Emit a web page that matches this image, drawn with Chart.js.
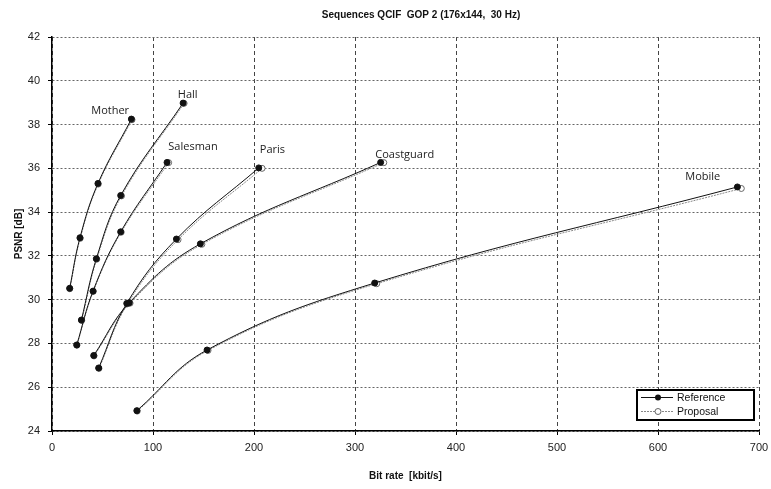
<!DOCTYPE html>
<html>
<head>
<meta charset="utf-8">
<script src="https://cdn.jsdelivr.net/npm/chart.js@4.4.1/dist/chart.umd.min.js"></script>
<style>
    html, body { margin: 0; padding: 0; background: #fff; }
    #wrap { width: 771px; height: 489px; }
</style>
</head>
<body>
<div id="wrap"><canvas id="chart-rd"></canvas></div>
<script>
const chartTitle = 'Sequences QCIF  GOP 2 (176x144,  30 Hz)';
const xTitle = 'Bit rate  [kbit/s]';
const yTitle = 'PSNR [dB]';

const sequences = ['Mother', 'Hall', 'Salesman', 'Paris', 'Coastguard', 'Mobile'];

// Reference codec: bit rate (kbit/s) and PSNR (dB) per sequence
const refRate = [
    [17.5, 27.7, 45.5, 78.6],
    [29.1, 43.9, 68.0, 129.8],
    [24.5, 40.6, 68.0, 113.9],
    [46.2, 74.0, 123.2, 204.7],
    [41.3, 76.5, 146.9, 325.4],
    [84.0, 153.5, 319.5, 678.6]
];
const refPsnr = [
    [30.52, 32.83, 35.31, 38.25],
    [29.07, 31.87, 34.76, 38.98],
    [27.93, 30.39, 33.10, 36.27],
    [26.88, 29.83, 32.77, 36.02],
    [27.45, 29.86, 32.55, 36.27],
    [24.93, 27.70, 30.76, 35.15]
];

// Proposal codec
const propRate = [
    [17.6, 27.9, 45.8, 79.2],
    [29.4, 44.3, 68.8, 130.8],
    [24.7, 40.9, 68.5, 115.5],
    [46.5, 74.8, 124.8, 208.0],
    [41.6, 77.3, 148.4, 328.5],
    [84.4, 154.5, 321.5, 682.5]
];
const propPsnr = [
    [30.50, 32.80, 35.28, 38.22],
    [29.05, 31.85, 34.74, 38.97],
    [27.92, 30.38, 33.08, 36.26],
    [26.86, 29.81, 32.74, 36.00],
    [27.43, 29.84, 32.53, 36.26],
    [24.91, 27.68, 30.73, 35.08]
];

// where each sequence name sits, in data units
const labelRate = [57.6, 134.4, 139.6, 218.2, 349.2, 644.3];
const labelPsnr = [38.61, 39.34, 37.00, 36.85, 36.60, 35.60];

const legendNames = ['Reference', 'Proposal'];

const toPoints = (xs, ys) => xs.map((x, i) => ({ x: x, y: ys[i] }));

const datasets = [];
sequences.forEach((name, s) => {
    datasets.push({
        label: name + ' Reference',
        data: toPoints(refRate[s], refPsnr[s]),
        showLine: true,
        borderColor: '#111',
        borderWidth: 1,
        tension: 0.4,
        pointRadius: 3,
        pointBackgroundColor: '#111',
        pointBorderColor: '#111',
        order: 1
    });
    datasets.push({
        label: name + ' Proposal',
        data: toPoints(propRate[s], propPsnr[s]),
        showLine: true,
        borderColor: '#888',
        borderWidth: 1,
        borderDash: [2, 1],
        tension: 0.4,
        pointRadius: 3,
        pointBackgroundColor: '#fff',
        pointBorderColor: '#666',
        order: 2
    });
});

const extrasPlugin = {
    id: 'extras',
    afterDraw(chart) {
        const ctx = chart.ctx;
        const area = chart.chartArea;
        const xs = chart.scales.x;
        const ys = chart.scales.y;
        ctx.save();

        // title
        ctx.fillStyle = '#111';
        ctx.font = 'bold 10px "Liberation Sans", Arial, sans-serif';
        ctx.textAlign = 'center';
        ctx.textBaseline = 'middle';
        ctx.fillText(chartTitle, 421, 15);

        // sequence names
        ctx.font = '11px "Open Sans", sans-serif';
        ctx.fillStyle = '#222';
        sequences.forEach((name, s) => {
            ctx.fillText(name, xs.getPixelForValue(labelRate[s]), ys.getPixelForValue(labelPsnr[s]));
        });

        // legend box
        const w = 117, h = 30;
        const bx = area.right - 5 - w;
        const by = area.bottom - 11 - h;
        ctx.fillStyle = '#fff';
        ctx.fillRect(bx, by, w, h);
        ctx.strokeStyle = '#000';
        ctx.lineWidth = 2;
        ctx.strokeRect(bx, by, w, h);

        const rowY = [by + 7.5, by + 21.5];
        ctx.lineWidth = 1;
        // reference sample
        ctx.strokeStyle = '#111';
        ctx.setLineDash([]);
        ctx.beginPath();
        ctx.moveTo(bx + 4, rowY[0]);
        ctx.lineTo(bx + 36, rowY[0]);
        ctx.stroke();
        ctx.fillStyle = '#111';
        ctx.beginPath();
        ctx.arc(bx + 21, rowY[0], 3, 0, Math.PI * 2);
        ctx.fill();
        // proposal sample
        ctx.strokeStyle = '#888';
        ctx.setLineDash([2, 1]);
        ctx.beginPath();
        ctx.moveTo(bx + 4, rowY[1]);
        ctx.lineTo(bx + 36, rowY[1]);
        ctx.stroke();
        ctx.setLineDash([]);
        ctx.fillStyle = '#fff';
        ctx.strokeStyle = '#666';
        ctx.beginPath();
        ctx.arc(bx + 21, rowY[1], 3, 0, Math.PI * 2);
        ctx.fill();
        ctx.stroke();

        ctx.fillStyle = '#111';
        ctx.font = '10.5px "Liberation Sans", Arial, sans-serif';
        ctx.textAlign = 'left';
        legendNames.forEach((t, i) => ctx.fillText(t, bx + 40, rowY[i] + 0.5));

        ctx.restore();
    }
};

new Chart(document.getElementById('chart-rd'), {
    type: 'scatter',
    data: { datasets: datasets },
    options: {
        responsive: true,
        maintainAspectRatio: false,
        animation: false,
        layout: { padding: { top: 37, right: 12, left: 0, bottom: 0 } },
        plugins: {
            legend: { display: false },
            tooltip: { enabled: false },
            title: { display: false }
        },
        scales: {
            x: {
                type: 'linear',
                min: 0,
                max: 700,
                afterFit: s => { s.height = 58; s.paddingRight = 0; s.paddingLeft = 0; },
                ticks: {
                    stepSize: 100,
                    padding: 6,
                    color: '#222',
                    font: { family: '"Liberation Sans", Arial, sans-serif', size: 11 }
                },
                grid: {
                    color: '#444',
                    lineWidth: 1,
                    tickLength: 4,
                    tickColor: '#000',
                    tickBorderDash: []
                },
                border: { display: true, color: '#000', width: 1.5, dash: [4, 3] },
                title: {
                    display: true,
                    text: xTitle,
                    color: '#111',
                    padding: { top: 0, bottom: 7 },
                    font: { family: '"Liberation Sans", Arial, sans-serif', size: 10, weight: 'bold' }
                }
            },
            y: {
                type: 'linear',
                min: 24,
                max: 42,
                afterFit: s => { s.width = 52; },
                ticks: {
                    stepSize: 2,
                    padding: 8,
                    color: '#222',
                    font: { family: '"Liberation Sans", Arial, sans-serif', size: 11 }
                },
                grid: {
                    color: '#666',
                    lineWidth: 1,
                    tickLength: 4,
                    tickColor: '#000',
                    tickBorderDash: []
                },
                border: { display: true, color: '#000', width: 1.5, dash: [2, 2] },
                title: {
                    display: true,
                    text: yTitle,
                    color: '#111',
                    padding: { top: 13, bottom: 0 },
                    font: { family: '"Liberation Sans", Arial, sans-serif', size: 10, weight: 'bold' }
                }
            }
        }
    },
    plugins: [extrasPlugin]
});
</script>
</body>
</html>
